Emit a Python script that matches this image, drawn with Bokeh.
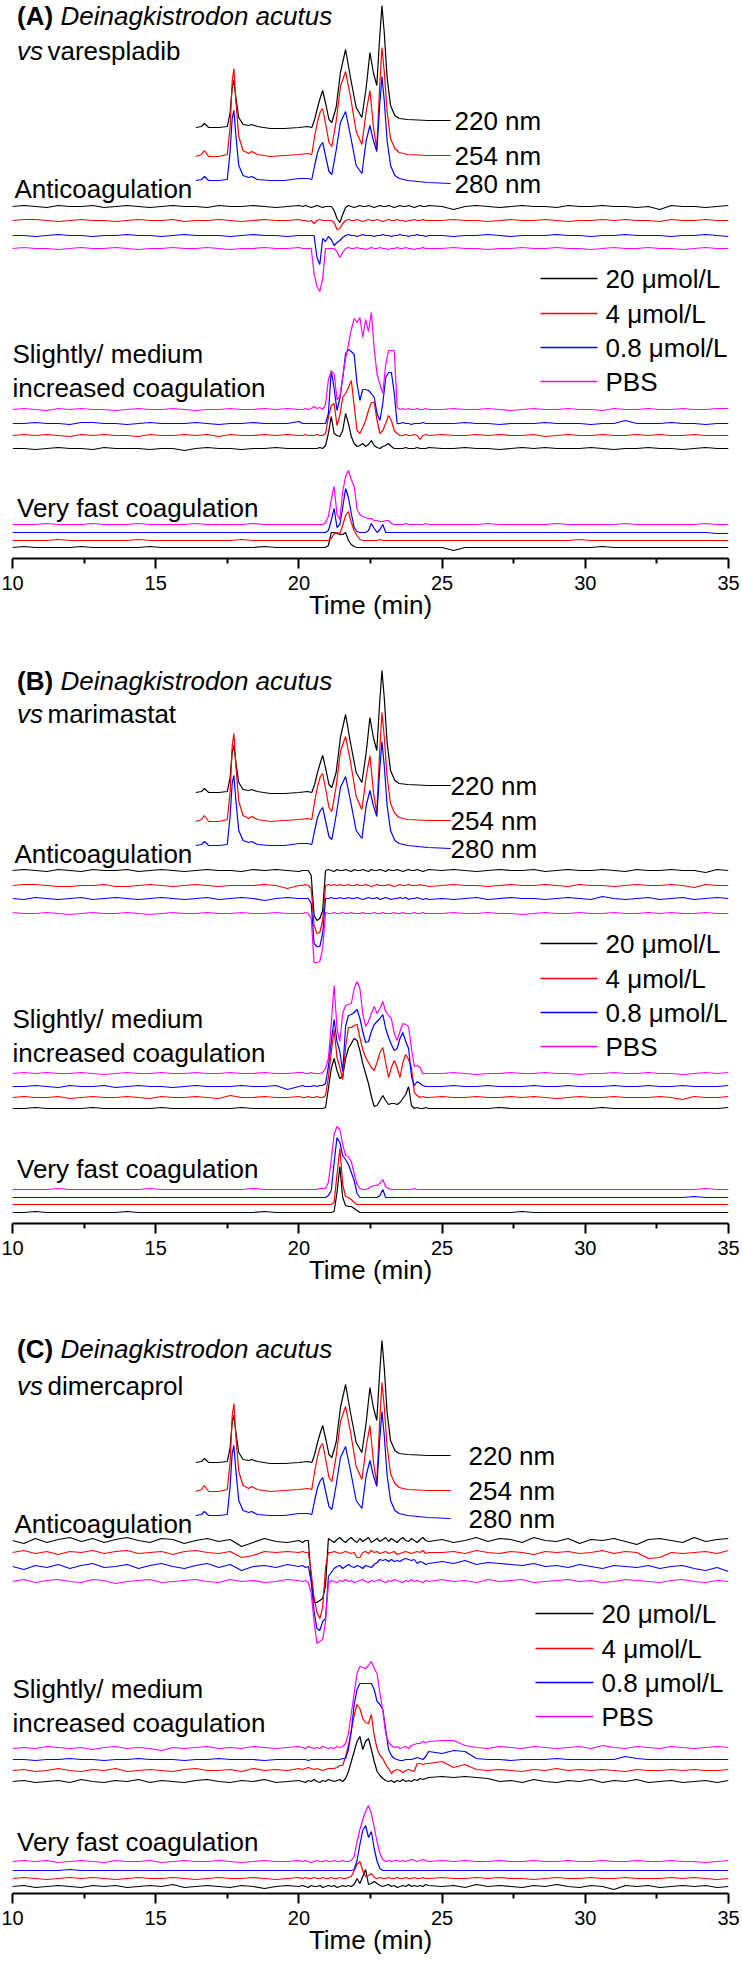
import numpy as np
from bokeh.plotting import figure
from bokeh.models import Range1d, FixedTicker
from bokeh.layouts import column
from bokeh.core.properties import value
from bokeh.embed import file_html
from bokeh.resources import INLINE

FONT = "Liberation Sans"

# ---------------- data ----------------
X_TICKS = [10, 15, 20, 25, 30, 35]
X_MINOR = [12.5, 17.5, 22.5, 27.5, 32.5]
CONC_LABELS = ["20 \u03bcmol/L", "4 \u03bcmol/L", "0.8 \u03bcmol/L", "PBS"]
CONC_COLORS = ["#000000", "#ff0000", "#0000ff", "#ff00ff"]
UV_LABELS = ["220 nm", "254 nm", "280 nm"]
UV_COLORS = ["#000000", "#ff0000", "#0000ff"]
PANEL_LETTERS = ["(A)", "(B)", "(C)"]
PANEL_DRUGS = ["varespladib", "marimastat", "dimercaprol"]
SPECIES = "Deinagkistrodon acutus"

# UV chromatogram (same venom run in every panel), signal relative to trace start
UV_T = [16.40, 16.60, 16.70, 16.85, 17.20, 17.50, 17.60, 17.67, 17.73, 17.80,
        17.90, 18.05, 18.25, 18.35, 18.55, 19.00, 19.50, 20.00, 20.30, 20.45,
        20.55, 20.65, 20.75, 20.83, 20.95, 21.05, 21.15, 21.30, 21.45, 21.63,
        21.80, 22.00, 22.20, 22.35, 22.48, 22.60, 22.72, 22.82, 22.90, 22.98,
        23.08, 23.20, 23.35, 23.50, 23.80, 24.50, 25.30]
UV_220 = [0, 1, 4, 0, 0, 1, 15, 40, 47, 30,
          10, 3, 2, 3, 1, -1, -1, 0, 1, 0,
          8, 20, 30, 37, 22, 8, 5, 20, 55, 78,
          50, 20, 10, 40, 75, 55, 42, 90, 122, 95,
          50, 22, 12, 9, 8, 7, 7]
UV_254 = [0, 2, 6, 0, 0, 2, 30, 75, 88, 55,
          20, 6, 3, 5, 2, 0, 1, 2, 3, 2,
          20, 35, 45, 48, 30, 14, 10, 35, 70, 85,
          60, 25, 12, 45, 66, 30, 8, 70, 109, 85,
          45, 18, 8, 4, 2, 1, 1]
UV_280 = [0, 1, 4, 0, 0, 1, 30, 62, 70, 45,
          15, 5, 3, 4, 1, 0, 0, 2, 2, 1,
          15, 28, 35, 38, 22, 9, 6, 30, 58, 69,
          45, 15, 7, 40, 55, 40, 29, 75, 104, 80,
          40, 15, 5, 2, 0, -2, -3]

# bioassay sampling times: 10-20 (0.4 min), 20.13-24.53 (0.1 min), 25-35 (0.4 min)
BIO_T = np.concatenate([np.linspace(10.0, 20.0, 26),
                        np.linspace(20.13, 24.53, 45),
                        np.linspace(25.0, 35.0, 26)])

# ---- Panel A: varespladib ----
A_ANTI_20 = ([0,1,0,-1,1, 0,0,1,-1,0, 1,0,-1,0,1, 0,0,-1,1,0, 0,1,0,-1,0,1]
             + [0,1,0,-1,0, 1,0,-1,0,0, 0,-4,-12,-16,-8, -1,1,0,-1,0, 1,0,0,1,0,
                -1,0,1,0,0, 1,0,-1,0,1, 0,0,1,0,-1, 0,1,0,0,1]
             + [0,-3,0,1,0, -1,0,1,0,0, -1,1,0,0,1, 0,0,-1,0,-3, 1,0,0,-1,0,1])
A_ANTI_4 = ([0,1,1,0,-1, 0,1,0,0,-1, 0,1,0,0,1, -1,0,0,1,0, -1,0,1,0,0,1]
            + [0,0,-1,0,-3, 0,1,0,0,0, 0,-2,-9,-8,-3, 0,1,0,0,1, 0,-1,0,1,0,
               0,1,0,-1,0, 1,0,0,1,0, 0,-1,0,0,1, 0,0,1,0,0]
            + [0,1,0,0,-1, 0,1,0,0,1, 0,-1,0,0,1, 0,1,0,0,-1, 1,0,0,1,0,0])
A_ANTI_08 = ([0,0,-1,0,1, 0,0,-1,0,0, 1,0,0,-1,0, 1,0,0,0,-1, 0,1,0,0,-1,0]
             + [0,0,0,0,0, -22,-29,-3,-6,-1, -4,-10,-7,-5,-2, 0,1,0,0,-1, 0,1,0,0,0,
                -1,0,0,1,0, 0,-1,0,0,1, 0,0,-1,0,0, 1,0,0,-1,0]
             + [0,-1,0,0,1, 0,-1,0,0,0, 1,0,0,-1,0, 0,1,0,0,0, -1,0,0,1,0,-1])
A_ANTI_PBS = ([0,1,0,0,-1, 0,1,0,0,1, 0,-1,0,0,1, 0,0,1,0,-1, 0,0,1,0,0,1]
              + [0,0,0,0,-25, -38,-43,-30,0,0, 0,0,-3,-9,-4, 0,1,0,0,1, 0,0,-1,0,1,
                 0,0,1,0,0, -1,0,0,1,0, 0,1,0,0,-1, 0,0,1,0,0]
              + [0,1,0,0,-1, 0,0,1,0,0, 1,0,0,-1,0, 1,0,0,1,0, 0,-1,0,1,0,0])

A_SL_20 = ([0,0,-1,0,1, 0,0,-1,1,0, 0,0,-1,0,0, -2,0,1,0,0, -1,0,0,1,0,0]
           + [0,0,0,0,0, 0,1,0,3,15, 32,15,13,12,18, 35,25,12,5,2, 3,5,2,4,8,
              3,1,0,2,3, 5,2,0,0,0, 0,1,0,0,0, 1,0,0,0,1]
           + [0,0,1,0,0, -1,0,1,0,1, 0,0,0,1,0, -1,0,0,1,0, 0,-1,0,1,0,0])
A_SL_4 = ([0,1,0,1,0, -1,1,0,1,0, 0,-1,1,0,0, 1,0,1,-1,1, 0,0,1,0,1,0]
          + [0,1,0,0,0, 1,0,0,2,18, 30,32,10,20,38, 42,48,55,30,5, 2,8,15,25,33,
             33,15,2,5,12, 20,15,5,2,0, 0,1,0,0,1, 0,-4,0,1,0]
          + [1,0,0,1,0, 1,0,0,1,-1, 0,1,0,0,1, 0,0,1,0,1, 0,0,1,0,0,0])
A_SL_08 = ([0,0,1,0,0, -1,1,1,0,0, -1,0,1,0,0, 0,1,0,-1,0, 0,1,0,0,0,2]
           + [0,0,0,0,0, 0,0,0,0,10, 53,35,13,25,45, 70,74,72,69,40, 23,34,34,33,30,
              26,10,3,20,46, 51,51,30,0,0, 1,0,0,-1,0, 0,0,1,0,0]
           + [0,0,1,0,0, -1,0,0,0,1, 0,0,0,-1,0, 0,3,0,0,0, 1,0,0,-1,0,0])
A_SL_PBS = ([0,1,0,-1,1, 0,1,0,0,-1, 0,1,0,0,1, 0,-1,0,0,1, 0,0,1,0,1,0]
            + [0,1,0,1,3, 1,2,0,5,30, 38,36,10,13,33, 51,65,80,91,87, 92,72,90,78,97,
               60,35,25,16,45, 59,59,59,2,0, 1,0,1,0,0, 1,0,0,1,0]
            + [0,1,0,0,1, 0,-1,0,1,0, 0,1,0,0,-1, 1,0,0,1,0, 0,1,0,0,1,1])

A_FA_20 = ([0,1,0,0,0, 0,1,0,0,0, 0,0,1,0,0, 0,0,0,0,0, 0,0,1,0,0,0]
           + [0,0,0,0,0, 0,0,0,0,2, 15,15,14,13,13, 15,7,3,1,0, 0,0,0,0,0,
              0,0,0,0,0, 0,0,0,0,0, 0,0,0,0,0, 0,0,0,0,0]
           + [0,-3,0,0,0, 0,0,0,0,0, 0,0,0,0,1, 0,0,0,0,0, 0,0,0,0,0,0])
A_FA_4 = ([0,0,0,0,1, 0,0,0,0,0, 0,1,0,0,0, 0,0,0,0,0, 1,0,0,0,0,0]
          + [0,0,0,0,0, 0,0,0,0,0, 2,7,8,7,15, 25,29,18,10,5, 1,0,0,0,0,
             0,0,1,0,0, 0,0,0,0,0, 0,0,0,0,0, 0,0,0,0,0]
          + [0,0,0,0,0, 0,0,0,0,0, 0,0,1,0,0, 0,0,0,0,0, 0,0,0,0,0,0])
A_FA_08 = ([0,0,0,0,0, 0,0,0,0,0, 0,0,0,0,0, 0,0,0,0,0, 0,0,0,0,0,0]
           + [0,0,0,0,0, 0,0,0,0,2, 12,24,5,8,25, 44,35,19,5,1, 0,0,0,2,9,
              4,0,3,8,0, 0,0,0,0,0, 0,0,0,0,0, 0,0,0,0,0]
           + [0,0,0,0,0, 0,0,0,0,0, 0,0,0,0,0, 0,0,0,0,0, 0,0,0,0,-1,-1])
A_FA_PBS = ([0,0,0,1,0, 0,0,1,0,0, 0,1,0,0,0, 0,1,0,0,0, 0,1,0,0,0,0]
            + [0,0,0,0,0, 0,0,0,2,8, 25,38,10,5,33, 48,54,45,38,15, 10,8,7,6,6,
               4,4,3,3,4, 4,1,0,0,0, 0,1,0,0,0, 0,0,0,1,0]
            + [0,0,0,0,1, 0,0,0,0,0, 1,0,0,0,0, 0,1,0,0,0, 0,0,0,1,0,0])

# ---- Panel B: marimastat ----
B_ANTI_20 = ([0,1,0,-1,1, 0,-1,1,0,0, 1,-1,0,1,0, -1,0,1,0,0, -1,1,0,1,0,-1]
             + [0,0,0,-5,-45, -50,-48,-40,0,1, 0,-1,1,0,0, 1,0,-1,1,0, 0,1,0,-1,1,
                0,0,1,0,-1, 1,0,0,1,0, -1,0,1,0,0, 1,0,-1,0,1]
             + [0,1,0,-1,0, 1,0,0,1,-1, 0,1,0,0,1, 0,-1,1,0,0, 1,0,0,-2,1,0])
B_ANTI_4 = ([0,1,1,0,-1, -1,0,0,1,-1, -1,0,1,0,-1, 0,1,0,-1,0, 0,0,1,0,-3,0]
            + [0,1,0,-3,-40, -48,-47,-35,0,1, 0,1,0,1,0, 0,1,0,0,1, 0,0,1,0,-1,
               0,1,0,0,0, 1,0,-1,0,1, 0,0,1,0,0, 0,1,0,0,-1]
            + [0,1,0,0,-1, 0,1,0,0,1, 0,-1,1,0,0, -1,0,1,0,0, 1,0,-2,1,0,0])
B_ANTI_08 = ([0,-1,1,0,-1, 0,1,-1,0,1, 0,-1,0,1,0, -1,0,1,-1,0, 1,0,-2,0,1,0]
             + [0,0,0,-5,-45, -48,-48,-35,0,0, 1,0,0,1,0, 0,1,0,0,1, 0,-1,0,1,0,
                0,1,-1,0,1, 0,-1,0,0,1, 0,1,-1,0,0, 1,0,-1,0,-1]
             + [0,-1,0,1,-1, 0,1,0,0,-1, 0,1,0,-1,2, 0,-1,0,1,-1, 0,1,-1,0,1,0])
B_ANTI_PBS = ([1,0,0,1,0, -1,0,1,0,0, 1,0,-1,0,1, 0,0,1,0,0, 1,0,0,1,0,0]
              + [0,1,0,-5,-49, -49,-48,-35,1,0, 0,1,0,0,1, 0,0,1,0,0, 0,1,0,0,0,
                 1,0,0,1,0, 0,0,1,0,0, 1,0,0,0,1, 0,0,1,0,0]
              + [0,1,0,0,1, 0,0,-1,0,1, 0,0,1,0,0, 1,0,0,1,0, 1,0,0,1,0,0])

B_SL_20 = ([0,0,1,0,0, 0,0,1,0,0, 0,0,0,1,0, 0,0,0,0,0, 1,0,0,0,0,0]
           + [0,0,0,0,0, 0,0,0,1,20, 40,50,38,30,32, 50,60,65,70,68, 58,45,35,25,12,
              2,3,8,13,8, 4,5,5,4,6, 10,14,22,3,0, 1,0,0,1,0]
           + [0,0,0,0,0, 1,0,0,0,0, 0,0,0,0,1, 0,0,0,0,0, 0,0,0,0,0,1])
B_SL_4 = ([0,1,0,0,1, -1,0,1,0,0, 1,0,-1,1,0, 0,1,0,-1,2, 0,0,1,0,0,1]
          + [0,0,1,0,0, 1,0,0,2,20, 45,68,40,30,18, 50,70,70,72,73, 60,48,40,35,30,
             27,35,45,50,35, 20,30,37,30,20, 35,43,38,30,5, 2,0,1,0,0]
          + [1,0,0,1,0, 0,1,0,1,0, -1,0,1,0,0, 1,0,0,0,1, 0,-2,1,0,0,1])
B_SL_08 = ([0,0,1,0,-1, 1,0,0,1,-1, 0,1,0,0,-1, 0,1,0,0,0, 1,0,0,1,-3,0]
           + [1,0,0,0,1, 0,1,1,3,20, 45,67,45,35,15, 60,71,72,74,77, 68,55,44,45,55,
              62,65,68,72,58, 49,42,36,38,48, 54,45,38,10,1, 5,3,1,0,0]
           + [0,1,0,0,1, 0,0,0,1,0, 0,1,0,0,0, 1,0,0,1,0, 0,1,0,0,0,1])
B_SL_PBS = ([0,1,0,1,0, 0,1,0,-1,0, 1,0,0,1,0, 0,1,0,0,1, 0,0,1,0,0,1]
            + [1,0,0,1,0, 0,0,1,5,15, 50,88,45,32,60, 68,69,70,85,92, 85,60,47,52,60,
               67,60,65,72,62, 58,55,40,33,42, 50,49,47,25,7, 8,6,0,0,0]
            + [0,1,0,-1,0, 0,1,0,0,1, 0,0,-1,0,0, 1,0,0,1,0, 0,-1,0,1,0,1])

B_FA_20 = ([0,0,1,0,0, 0,0,0,0,0, 1,0,0,0,0, 0,0,0,0,0, 0,0,1,0,0,0]
           + [0,0,0,0,0, 0,0,0,0,0, 0,1,20,46,15, 7,6,6,4,2, 0,0,0,0,0,
              0,0,0,0,0, 0,0,0,0,0, 0,0,0,0,0, 0,0,0,0,0]
           + [0,0,0,0,0, 0,0,1,0,0, 0,0,0,0,0, 0,0,0,0,0, 0,0,0,0,0,0])
B_FA_4 = ([0,0,0,0,0, 0,0,0,0,0, 0,0,0,0,0, 0,0,0,0,0, 0,0,0,0,0,0]
          + [0,0,0,0,0, 0,0,0,0,0, 0,2,30,56,20, 8,7,5,2,0, 0,0,0,0,0,
             0,0,0,0,0, 0,0,0,0,0, 0,0,0,0,0, 0,0,0,0,0]
          + [0,0,0,0,0, 0,0,0,0,0, 0,0,0,0,0, 0,0,0,0,0, 0,0,0,0,0,0])
B_FA_08 = ([0,0,0,0,0, 0,0,0,0,0, 0,0,0,0,0, 0,0,0,0,0, 0,0,0,0,0,0]
           + [0,0,0,0,0, 0,0,0,0,2, 7,35,60,55,42, 38,33,25,17,4, 0,0,0,0,0,
              0,0,2,8,0, 0,0,0,0,0, 0,0,0,0,0, 0,0,0,0,0]
           + [0,0,0,0,0, 0,0,0,0,0, 0,0,0,0,0, 0,0,0,0,0, 0,0,1,0,0,0])
B_FA_PBS = ([0,0,0,0,1, 0,0,0,0,0, 0,0,1,0,0, 0,0,0,0,0, 0,1,0,0,0,0]
            + [0,0,0,0,0, 0,1,1,1,7, 30,55,63,60,45, 34,33,28,16,5, 1,0,0,1,3,
               4,4,6,10,3, 1,0,0,0,0, 0,0,0,0,1, 0,0,0,0,0]
            + [0,0,0,0,0, 0,0,0,0,0, 0,0,0,0,0, 0,0,0,0,0, 0,0,0,1,0,0])

# ---- Panel C: dimercaprol ----
C_ANTI_20 = ([0,-3,2,-2,1, 3,-1,2,-2,1, 3,0,-2,2,1, -3,0,2,-1,1, -6,-2,2,-1,-2,0]
             + [-2,0,0,-40,-62, -62,-60,-58,-45,2, 0,-2,1,3,0, -2,1,3,0,-2, 2,-1,1,3,-2,
                0,2,-1,1,3, -1,2,0,-2,1, 3,0,-1,2,0, -2,1,3,0,-1]
             + [1,-2,0,3,-1, 2,1,-2,3,0, -1,2,-3,1,0, 2,-1,-4,1,2, 0,-2,3,-1,1,2])
C_ANTI_4 = ([0,2,-1,1,-2, 1,0,2,-1,1, 2,-1,0,1,-2, 1,2,0,-1,1, -5,-3,1,0,1,0]
            + [1,0,0,-20,-45, -60,-66,-55,-15,0, 0,1,0,-1,0, 1,0,-1,0,-5, -5,0,1,-1,2,
               0,1,-1,0,1, -1,0,1,-2,-1, 0,1,0,-1,0, 1,0,2,-1,0]
            + [0,1,-1,2,0, -1,1,0,-2,1, 0,1,-1,0,2, -1,1,0,-6,-5, 0,-1,0,1,-1,2])
C_ANTI_08 = ([0,-3,1,-1,2, -2,1,3,-1,0, 2,-2,1,3,0, -2,1,3,-1,2, -4,0,1,-1,2,0]
             + [1,-1,0,-15,-45, -62,-64,-55,-52,-10, -6,-2,0,1,-2, 0,2,0,-1,1, 0,-2,1,0,-1,
                2,4,7,6,7, 5,7,5,6,5, 7,8,7,6,7, 3,5,4,2,3]
             + [5,3,6,2,4, 3,2,1,3,0, 1,-1,2,0,-2, 1,0,-1,1,-2, 0,1,-2,-4,-1,-5])
C_ANTI_PBS = ([0,2,-1,1,2, 0,-1,2,1,-2, 0,1,2,-1,0, 1,2,0,-1,2, 0,1,-1,0,2,1]
              + [0,1,-1,-12,-40, -62,-60,-58,-40,-2, 1,0,-1,1,0, 2,0,1,-1,0, 1,2,0,-1,1,
                 0,1,2,0,-1, 1,0,2,1,0, -1,1,0,2,0, 1,0,-1,1,0]
              + [2,0,1,-1,2, 0,1,2,-1,0, 1,2,0,1,-1, 0,2,1,0,-1, 1,2,0,-1,1,0])

C_SL_20 = ([0,1,-1,0,1, -1,2,0,-1,1, 0,2,-1,1,0, -1,1,2,0,-1, 1,0,2,-1,0,1]
           + [0,-1,1,0,2, 0,-1,1,0,2, 1,0,1,2,0, 3,10,20,30,40, 45,32,40,43,32,
              20,10,6,3,1, 0,1,-1,1,0, 2,0,1,0,2, 1,3,2,3,4]
           + [5,4,5,4,3, 0,1,-1,2,0, -1,1,0,2,-1, 1,0,2,-1,0, 1,-1,0,1,-1,1])
C_SL_4 = ([0,1,-1,0,2, 0,-1,1,0,2, -1,0,1,0,-1, 1,2,0,0,1, -1,2,0,1,0,2]
          + [1,2,3,2,1, 2,1,0,1,2, 2,2,3,5,5, 14,25,40,55,66, 62,52,48,47,56,
             35,22,15,12,6, 2,-3,0,1,0, -2,0,1,0,-1, 7,7,6,7,7]
          + [9,3,6,1,0, 1,0,-1,1,0, 2,0,1,0,1, 0,-1,1,0,0, 1,0,1,0,0,1])
C_SL_08 = ([0,0,-1,0,0, 1,0,0,-1,0, 0,1,0,0,0, -1,0,0,1,0, 0,0,-1,0,0,0]
           + [0,0,-1,0,0, 0,0,0,0,0, 0,0,0,0,1, 1,10,28,55,70, 76,76,76,76,76,
              70,58,55,50,30, 10,4,1,0,-1, -1,0,0,0,1, 2,1,0,3,8]
           + [6,9,8,1,0, 0,-1,0,0,0, 1,0,0,0,0, 0,3,1,0,0, 0,0,0,0,0,0])
C_SL_PBS = ([0,1,0,2,1, 0,1,-1,1,2, 0,1,0,-2,1, 0,1,2,0,1, 0,2,1,0,1,2]
            + [1,0,2,1,0, 1,0,2,1,0, 1,0,2,1,2, 5,15,35,55,75, 82,81,80,83,87,
               80,75,55,38,15, 6,3,1,2,0, 1,2,0,3,4, 5,5,7,6,7]
            + [8,8,3,1,0, 2,1,0,2,1, 0,1,2,0,3, 1,0,2,1,0, 2,1,0,1,2,1])

C_FA_20 = ([0,1,-1,0,1, 0,-1,1,0,1, -1,0,1,0,2, -1,0,1,0,-1, 1,0,-2,0,1,0]
           + [1,0,-1,1,0, 0,1,-1,0,1, 0,1,-1,0,1, 0,1,0,2,8, 3,10,17,2,3,
              5,3,1,0,1, 2,0,1,-1,0, 1,0,2,0,1, 0,1,0,2,1]
           + [0,1,-1,2,0, 1,0,-1,1,0, 2,0,-1,1,0, -3,1,0,1,-1, 0,1,0,1,-1,0])
C_FA_4 = ([0,1,0,-1,0, 1,0,1,0,-1, 0,1,0,0,1, 0,-1,0,1,0, 0,1,0,-1,0,1]
          + [0,1,0,0,1, 0,0,1,0,0, 1,0,0,1,0, 0,1,2,8,14, 17,8,2,3,5,
             1,0,1,0,0, 1,0,0,1,0, 0,1,0,0,1, 0,0,1,0,0]
          + [1,0,0,1,0, 1,0,0,-1,0, 1,0,0,1,0, 0,1,0,0,0, 1,0,1,0,-1,0])
C_FA_08 = ([0,0,0,0,0, 1,0,0,0,0, 0,0,0,0,0, 0,0,0,0,0, 0,0,0,0,0,0]
           + [0,0,0,0,0, 0,0,0,0,0, 0,0,0,0,0, 0,0,0,1,10, 26,40,45,33,39,
              22,9,2,0,0, 0,0,0,0,0, 0,0,0,0,0, 0,0,0,0,0]
           + [0,0,0,0,0, 0,0,0,0,0, 0,0,0,0,0, 0,0,0,0,0, 0,0,0,0,0,0])
C_FA_PBS = ([0,1,0,1,-1, 0,1,0,-1,1, 0,0,1,-1,0, 1,0,0,1,0, -1,0,1,0,0,1]
            + [0,1,0,-1,0, 1,0,0,1,0, 0,1,0,0,1, 0,0,1,5,20, 32,42,50,56,48,
               34,20,8,2,0, 1,0,1,1,0, 1,0,1,2,1, 0,1,2,1,0]
            + [1,0,1,0,0, 1,0,0,1,0, 0,1,0,0,1, 0,0,1,0,0, 1,0,0,-1,0,1])

# ---------------- layout ----------------
FRAME_LEFT = 12
PX_PER_MIN = 716 / 25.0
def px2t(page_x):
    return 10 + (page_x - FRAME_LEFT) / PX_PER_MIN

UV_OFFSETS = [431, 402, 378]
UV_LABEL_Y = [438, 403, 375]
LEGEND_Y = [280, 245, 211, 177]

PANELS = [
    dict(frame_h=558, bottom=75, title_y=(543, 508), fast_label_y=51, uv_label_x=454,
         leg_x=(540, 597, 605),
         groups=[([A_ANTI_20, A_ANTI_4, A_ANTI_08, A_ANTI_PBS], [352, 338, 323, 310]),
                 ([A_SL_20, A_SL_4, A_SL_08, A_SL_PBS], [110, 123, 135, 149]),
                 ([A_FA_20, A_FA_4, A_FA_08, A_FA_PBS], [11, 18, 26, 34])]),
    dict(frame_h=590, bottom=77, title_y=(543, 510), fast_label_y=55, uv_label_x=450,
         leg_x=(540, 597, 605),
         groups=[([B_ANTI_20, B_ANTI_4, B_ANTI_08, B_ANTI_PBS], [353, 338, 325, 310]),
                 ([B_SL_20, B_SL_4, B_SL_08, B_SL_PBS], [115, 126, 137, 150]),
                 ([B_FA_20, B_FA_4, B_FA_08, B_FA_PBS], [11, 19, 26, 34])]),
    dict(frame_h=593, bottom=68, title_y=(545, 508), fast_label_y=52, uv_label_x=468,
         leg_x=(535, 593, 601),
         groups=[([C_ANTI_20, C_ANTI_4, C_ANTI_08, C_ANTI_PBS], [353, 341, 327, 312]),
                 ([C_SL_20, C_SL_4, C_SL_08, C_SL_PBS], [112, 123, 134, 145]),
                 ([C_FA_20, C_FA_4, C_FA_08, C_FA_PBS], [7, 15, 23, 32])]),
]


def add_text(p, page_x, y, s, size="26px", style="normal"):
    p.text(x=[px2t(page_x)], y=[y], text=[s], text_font=value(FONT),
           text_font_size=size, text_font_style=style, text_color="#000000",
           text_baseline="middle", text_align="left")


def make_panel(i, cfg):
    fh = cfg["frame_h"]
    p = figure(frame_width=716, frame_height=fh,
               x_range=Range1d(10, 35), y_range=Range1d(0, fh),
               min_border_left=FRAME_LEFT, min_border_right=14, min_border_top=0,
               min_border_bottom=cfg["bottom"],
               output_backend="svg", toolbar_location=None, y_axis_location=None,
               outline_line_color=None, background_fill_color="white",
               border_fill_color="white")
    p.xgrid.visible = False
    p.ygrid.visible = False
    ax = p.xaxis[0]
    ax.ticker = FixedTicker(ticks=X_TICKS, minor_ticks=X_MINOR)
    ax.axis_line_width = 2
    ax.axis_line_color = "#000000"
    ax.major_tick_line_width = 2
    ax.major_tick_out = 10
    ax.major_tick_in = 0
    ax.minor_tick_line_width = 2
    ax.minor_tick_out = 5
    ax.minor_tick_in = 0
    ax.major_label_text_font = FONT
    ax.major_label_text_font_size = "20px"
    ax.major_label_text_color = "#000000"
    ax.major_label_standoff = 7
    ax.axis_label = "Time (min)"
    ax.axis_label_text_font = FONT
    ax.axis_label_text_font_size = "26px"
    ax.axis_label_text_font_style = "normal"
    ax.axis_label_text_color = "#000000"
    ax.axis_label_standoff = -3

    # UV chromatograms
    for vals, off, col in zip([UV_220, UV_254, UV_280], UV_OFFSETS, UV_COLORS):
        p.line(UV_T, [off + v for v in vals], line_color=col, line_width=1.2)
    for lab, ly in zip(UV_LABELS, UV_LABEL_Y):
        add_text(p, cfg["uv_label_x"], ly, lab)

    # bioassay traces
    for traces, offsets in cfg["groups"]:
        for vals, off, col in zip(traces, offsets, CONC_COLORS):
            assert len(vals) == len(BIO_T), (i, off, len(vals))
            p.line(BIO_T, np.asarray(vals, dtype=float) + off, line_color=col, line_width=1.2)

    # titles and group labels
    ty1, ty2 = cfg["title_y"]
    add_text(p, 16.5, ty1, PANEL_LETTERS[i], style="bold")
    add_text(p, 60, ty1, SPECIES, style="italic")
    add_text(p, 16.6, ty2, "vs", style="italic")
    add_text(p, 47, ty2, PANEL_DRUGS[i])
    add_text(p, 14, 370, "Anticoagulation")
    add_text(p, 12, 205, "Slightly/ medium")
    add_text(p, 12, 171, "increased coagulation")
    add_text(p, 16.5, cfg["fast_label_y"], "Very fast coagulation")

    # legend
    x0, x1, xt = cfg["leg_x"]
    for lab, col, ly in zip(CONC_LABELS, CONC_COLORS, LEGEND_Y):
        p.segment(x0=[px2t(x0)], y0=[ly], x1=[px2t(x1)], y1=[ly], line_color=col, line_width=1.3)
        add_text(p, xt, ly, lab)
    return p


figs = [make_panel(i, cfg) for i, cfg in enumerate(PANELS)]
layout = column(*figs, spacing=0)
open("out.html", "w").write(file_html(layout, INLINE))
